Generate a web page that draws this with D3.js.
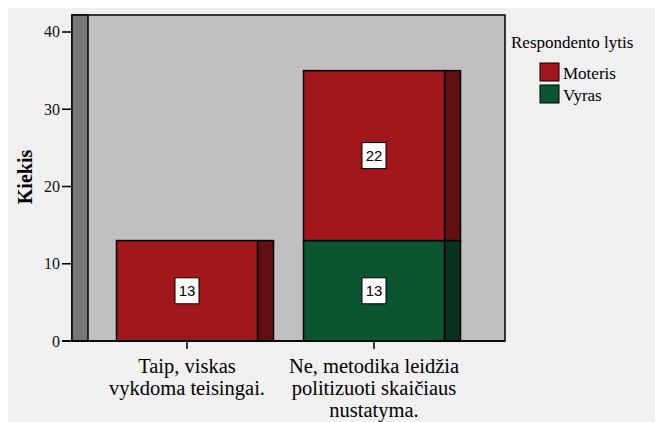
<!DOCTYPE html>
<html>
<head>
<meta charset="UTF-8">
<title>Respondento lytis</title>
<script src="https://cdn.jsdelivr.net/npm/d3@7"></script>
<style>
  body { margin: 0; background: #fff; }
  svg { display: block; }
</style>
</head>
<body>
<svg id="chart" width="655" height="422"></svg>
<script>
// data
const categories = ["Taip, viskas|vykdoma teisingai.", "Ne, metodika leidžia|politizuoti skaičiaus|nustatyma."];
const groups = ["Moteris", "Vyras"];
const moteris = [13, 22];
const vyras = [0, 13];
const yTicks = [0, 10, 20, 30, 40];

const colors = { Moteris: "#a2171c", Vyras: "#0b5530" };
const sideColors = { Moteris: "#620f12", Vyras: "#083320" };
const serif = "Liberation Serif";
const sans = "Liberation Sans";

const svg = d3.select("#chart");

// outer background
svg.append("rect").attr("x", 8).attr("y", 8).attr("width", 647).attr("height", 414).attr("fill", "#f0f0f0");

const pLeft = 72, pRight = 505, pTop = 15, pBottom = 341, depth = 16;

const y = d3.scaleLinear().domain([0, 42.2]).range([pBottom, pTop]);
const x = d3.scaleBand().domain(categories).range([93.5, 467.5]).paddingInner(0.246).paddingOuter(0.123);

// plot area + left wall
svg.append("rect").attr("x", pLeft).attr("y", pTop).attr("width", pRight - pLeft).attr("height", pBottom - pTop)
  .attr("fill", "#c0c0c0").attr("stroke", "#000").attr("stroke-width", 1.5);
svg.append("rect").attr("x", pLeft).attr("y", pTop).attr("width", depth).attr("height", pBottom - pTop)
  .attr("fill", "#777777").attr("stroke", "#000").attr("stroke-width", 1.5);

// stacked series
const table = categories.map((c, i) => ({ cat: c, Moteris: moteris[i], Vyras: vyras[i] }));
const stack = d3.stack().keys(["Vyras", "Moteris"])(table);

const segs = [];
stack.forEach(s => s.forEach(d => {
  if (d[1] - d[0] > 0) segs.push({ key: s.key, cat: d.data.cat, y0: d[0], y1: d[1] });
}));

const g = svg.append("g");
g.selectAll("rect.side").data(segs).join("rect").attr("class", "side")
  .attr("x", d => x(d.cat) + x.bandwidth())
  .attr("y", d => y(d.y1))
  .attr("width", depth)
  .attr("height", d => y(d.y0) - y(d.y1))
  .attr("fill", d => sideColors[d.key])
  .attr("stroke", "#000").attr("stroke-width", 1.5);

g.selectAll("rect.front").data(segs).join("rect").attr("class", "front")
  .attr("x", d => x(d.cat))
  .attr("y", d => y(d.y1))
  .attr("width", x.bandwidth())
  .attr("height", d => y(d.y0) - y(d.y1))
  .attr("fill", d => colors[d.key])
  .attr("stroke", "#000").attr("stroke-width", 1.5);

// value labels
segs.forEach(d => {
  const cx = x(d.cat) + x.bandwidth() / 2, cy = (y(d.y0) + y(d.y1)) / 2;
  svg.append("rect").attr("x", cx - 12).attr("y", cy - 13).attr("width", 24).attr("height", 26)
    .attr("fill", "#fff").attr("stroke", "#000").attr("stroke-width", 1);
  svg.append("text").attr("font-family", sans).attr("font-size", 15)
    .attr("x", cx).attr("y", cy + 5.5).attr("text-anchor", "middle")
    .text(String(d.y1 - d.y0));
});

// y axis
yTicks.forEach(t => {
  svg.append("line").attr("x1", 62).attr("x2", pLeft).attr("y1", y(t)).attr("y2", y(t))
    .attr("stroke", "#000").attr("stroke-width", 1.5);
  svg.append("text").attr("font-family", serif).attr("font-size", 16).attr("fill", "#111")
    .attr("x", 60).attr("y", y(t) + 5.5).attr("text-anchor", "end")
    .text(String(t));
});

svg.append("text")
  .attr("font-family", serif).attr("font-size", 20).attr("font-weight", "bold")
  .attr("transform", `translate(32,177) rotate(-90)`)
  .attr("text-anchor", "middle").text("Kiekis");

// x axis
svg.append("line").attr("x1", 62).attr("x2", pRight).attr("y1", pBottom).attr("y2", pBottom)
  .attr("stroke", "#000").attr("stroke-width", 1.5);
categories.forEach(c => {
  const cx = x(c) + x.bandwidth() / 2;
  svg.append("line").attr("x1", cx).attr("x2", cx).attr("y1", pBottom).attr("y2", pBottom + 8)
    .attr("stroke", "#000").attr("stroke-width", 1.5);
  c.split("|").forEach((line, i) => {
    svg.append("text").attr("font-family", serif).attr("font-size", 20.5)
      .attr("x", cx).attr("y", 373 + i * 22).attr("text-anchor", "middle")
      .text(line);
  });
});

// legend
svg.append("text").attr("font-family", serif).attr("font-size", 17)
  .attr("x", 511).attr("y", 48).text("Respondento lytis");
groups.forEach((grp, i) => {
  svg.append("rect").attr("x", 540).attr("y", 63 + i * 22).attr("width", 19).attr("height", 18)
    .attr("fill", colors[grp]).attr("stroke", "#000").attr("stroke-width", 1);
  svg.append("text").attr("font-family", serif).attr("font-size", 17)
    .attr("x", 563).attr("y", 79 + i * 22).text(grp);
});
</script>
</body>
</html>
